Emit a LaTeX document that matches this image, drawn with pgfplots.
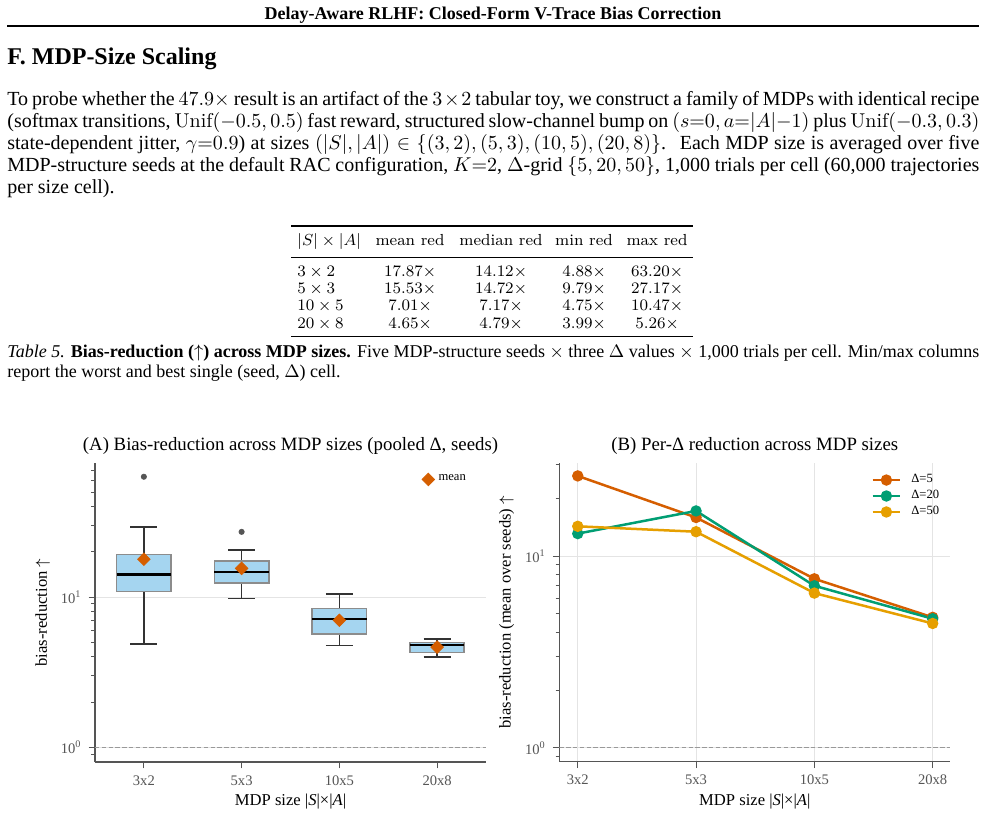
\documentclass[border=0pt]{standalone}
\usepackage{fontspec}
\usepackage{pgfplots}
\pgfplotsset{compat=1.18}
\newfontfamily\tms{Liberation Serif}

\definecolor{vermil}{HTML}{D55E00}
\definecolor{bgreen}{HTML}{009E73}
\definecolor{amber}{HTML}{E69F00}
\definecolor{boxfill}{HTML}{A5D5F0}
\definecolor{boxedge}{HTML}{8C8C8C}
\definecolor{spine}{HTML}{555555}
\definecolor{ticktext}{HTML}{555555}
\definecolor{gridc}{HTML}{E4E4E4}
\definecolor{refline}{HTML}{999999}

\newcommand\bodyfont{\tms\fontsize{10}{12}\selectfont}
\newcommand\capfont{\tms\fontsize{9}{10.5}\selectfont}
\newcommand\tabfont{\fontsize{8}{9.6}\selectfont}
\newcommand\plottitle{\tms\fontsize{9.4}{11}\selectfont}
\newcommand\plotlabel{\tms\fontsize{8.3}{10}\selectfont}
\newcommand\tickfont{\tms\fontsize{7.3}{8}\selectfont}
\newcommand\legfont{\tms\fontsize{6.3}{7}\selectfont}

% one box of a box plot: position, lower whisker, Q1, median, Q3, upper whisker
\newcommand\sizebox[6]{%
  \addplot[black!80, line width=0.7pt, forget plot] coordinates {(#1,#2) (#1,#3)};
  \addplot[black!80, line width=0.7pt, forget plot] coordinates {(#1,#5) (#1,#6)};
  \addplot[black!80, line width=0.7pt, forget plot] coordinates {(#1-0.139,#2) (#1+0.139,#2)};
  \addplot[black!80, line width=0.7pt, forget plot] coordinates {(#1-0.139,#6) (#1+0.139,#6)};
  \addplot[draw=boxedge, fill=boxfill, line width=0.8pt, forget plot]
    coordinates {(#1-0.278,#3) (#1+0.278,#3) (#1+0.278,#5) (#1-0.278,#5)} -- cycle;
  \addplot[black, line width=1.1pt, forget plot] coordinates {(#1-0.278,#4) (#1+0.278,#4)};
}

\begin{document}
\begin{tikzpicture}
\begin{scope}[x=0.5pt, y=-0.5pt]
  \useasboundingbox (0,0) rectangle (986,831);
  \fill[white] (0,0) rectangle (986,831);

  % running header
  \node[anchor=base, inner sep=0] at (493,19)
    {\tms\bfseries\fontsize{9}{11}\selectfont Delay-Aware RLHF: Closed-Form V-Trace Bias Correction};
  \draw[line width=1pt] (7,25.5) -- (979,25.5);

  % section heading
  \node[anchor=base west, inner sep=0] at (7,64)
    {\tms\bfseries\fontsize{12}{14}\selectfont F.\ MDP-Size Scaling};

  % body paragraph
  \node[anchor=base west, inner sep=0] at (7,105.7) {\bodyfont\makebox[486pt][s]{To probe whether the $47.9\times$ result is an artifact of the $3\times2$ tabular toy, we construct a family of MDPs with identical recipe}};
  \node[anchor=base west, inner sep=0] at (7,127.7) {\bodyfont\makebox[486pt][s]{(softmax transitions, $\mathrm{Unif}(-0.5,0.5)$ fast reward, structured slow-channel bump on $(s{=}0,a{=}|A|{-}1)$ plus $\mathrm{Unif}(-0.3,0.3)$}};
  \node[anchor=base west, inner sep=0] at (7,149.7) {\bodyfont\makebox[486pt][s]{state-dependent jitter, $\gamma{=}0.9$) at sizes $(|S|,|A|)\in\{(3,2),(5,3),(10,5),(20,8)\}$. \ Each MDP size is averaged over five}};
  \node[anchor=base west, inner sep=0] at (7,171.7) {\bodyfont\makebox[486pt][s]{MDP-structure seeds at the default RAC configuration, $K{=}2$, $\Delta$-grid $\{5,20,50\}$, 1,000 trials per cell (60,000 trajectories}};
  \node[anchor=base west, inner sep=0] at (7,193.7) {\bodyfont per size cell).};

  % table
  \draw[line width=0.8pt] (291,226) -- (693,226);
  \draw[line width=0.5pt] (291,257.3) -- (693,257.3);
  \draw[line width=0.8pt] (291,336.5) -- (693,336.5);
  \begin{scope}[every node/.style={inner sep=0, font=\tabfont}]
    \node[anchor=base west] at (297,245) {$|S|\times|A|$};
    \node[anchor=base] at (410,245) {mean red};
    \node[anchor=base] at (501,245) {median red};
    \node[anchor=base] at (584,245) {min red};
    \node[anchor=base] at (657,245) {max red};
    \foreach \yy/\sz/\mn/\md/\mi/\mx in {
        276.5/3\times2/17.87/14.12/4.88/63.20,
        293.6/5\times3/15.53/14.72/9.79/27.17,
        310.8/10\times5/7.01/7.17/4.75/10.47,
        328.0/20\times8/4.65/4.79/3.99/5.26}{
      \node[anchor=base west] at (297,\yy) {$\sz$};
      \node[anchor=base] at (410,\yy) {$\mn\times$};
      \node[anchor=base] at (501,\yy) {$\md\times$};
      \node[anchor=base] at (584,\yy) {$\mi\times$};
      \node[anchor=base] at (657,\yy) {$\mx\times$};
    }
  \end{scope}

  % table caption
  \node[anchor=base west, inner sep=0] at (7,357.5) {\capfont\makebox[486pt][s]{\textit{Table 5.} \textbf{Bias-reduction ($\uparrow$) across MDP sizes.} Five MDP-structure seeds $\times$ three $\Delta$ values $\times$ 1,000 trials per cell. Min/max columns}};
  \node[anchor=base west, inner sep=0] at (7,377.5) {\capfont report the worst and best single (seed, $\Delta$) cell.};

  % panel titles and axis labels
  \node[anchor=base, inner sep=0] at (290.5,450.5) {\plottitle (A) Bias-reduction across MDP sizes (pooled Δ, seeds)};
  \node[anchor=base, inner sep=0] at (754.8,450.5) {\plottitle (B) Per-Δ reduction across MDP sizes};
  \node[anchor=base, inner sep=0] at (290.5,805.5) {\plotlabel MDP size |\textit{S}|×|\textit{A}|};
  \node[anchor=base, inner sep=0] at (754.8,805.5) {\plotlabel MDP size |\textit{S}|×|\textit{A}|};
  \node[rotate=90, inner sep=0] at (42.7,612.5) {\plotlabel bias-reduction $\uparrow$};
  \node[rotate=90, inner sep=0] at (506.7,612.3) {\plotlabel bias-reduction (mean over seeds) $\uparrow$};
\end{scope}

% (A) pooled box plots per MDP size
\begin{axis}[
  at={(47.5pt,-381pt)}, anchor=south west,
  scale only axis, width=195.5pt, height=149.5pt,
  ymode=log,
  xmin=-0.5, xmax=3.5, ymin=0.80, ymax=78,
  axis x line*=bottom, axis y line*=left,
  axis line style={spine, line width=0.6pt},
  xtick={0,1,2,3}, xticklabels={3x2,5x3,10x5,20x8},
  ytick={1,10}, yticklabels={10\textsuperscript{0},10\textsuperscript{1}},
  minor ytick={0.9,2,3,4,5,6,7,8,9,20,30,40,50,60,70},
  tick align=outside,
  major tick length=3.2pt, minor tick length=1.8pt,
  tick style={spine, line width=0.5pt},
  tick label style={font=\tickfont, text=ticktext},
  ymajorgrids,
  major grid style={gridc, line width=0.4pt},
  legend cell align=left,
  legend style={draw=none, fill=none, font=\legfont,
    at={(0.975,0.988)}, anchor=north east},
]
  \addplot[refline, line width=0.6pt, dash pattern=on 2.2pt off 1.2pt, forget plot]
    coordinates {(-0.5,1) (3.5,1)};
  \sizebox{0}{4.88}{10.9}{14.12}{19.2}{29.2}
  \sizebox{1}{9.79}{12.4}{14.72}{17.4}{20.6}
  \sizebox{2}{4.75}{5.7}{7.17}{8.4}{10.47}
  \sizebox{3}{3.99}{4.28}{4.79}{4.99}{5.26}
  % outliers beyond the whiskers
  \addplot[only marks, mark=*, mark size=1.3pt, mark options={draw=spine, fill=spine}, forget plot]
    coordinates {(0,63.2) (1,27.17)};
  \addplot[only marks, mark=square*, mark size=2.2pt,
      mark options={rotate=45, draw=vermil, fill=vermil}]
    coordinates {(0,17.87) (1,15.53) (2,7.01) (3,4.65)};
  \addlegendentry{mean}
\end{axis}

% (B) per-Delta means across MDP sizes
\begin{axis}[
  at={(279.65pt,-380.85pt)}, anchor=south west,
  scale only axis, width=195.5pt, height=149.35pt,
  ymode=log,
  xmin=-0.156, xmax=3.149, ymin=0.845, ymax=30.6,
  axis x line*=bottom, axis y line*=left,
  axis line style={spine, line width=0.6pt},
  xtick={0,1,2,3}, xticklabels={3x2,5x3,10x5,20x8},
  ytick={1,10}, yticklabels={10\textsuperscript{0},10\textsuperscript{1}},
  minor ytick={0.9,2,3,4,5,6,7,8,9,20,30},
  tick align=outside,
  major tick length=3.2pt, minor tick length=1.8pt,
  tick style={spine, line width=0.5pt},
  tick label style={font=\tickfont, text=ticktext},
  xmajorgrids, ymajorgrids,
  major grid style={gridc, line width=0.4pt},
  legend cell align=left,
  legend style={draw=none, fill=none, font=\legfont,
    at={(0.998,0.99)}, anchor=north east, row sep=-1.7pt,
    /tikz/every odd column/.append style={column sep=3pt}},
  legend image code/.code={
    \draw[mark repeat=2, mark phase=2]
      plot coordinates {(0cm,0cm) (0.24cm,0cm) (0.48cm,0cm)};},
]
  \addplot[refline, line width=0.6pt, dash pattern=on 2.2pt off 1.2pt, forget plot]
    coordinates {(-0.156,1) (3.149,1)};
  \addplot[vermil, line width=1.25pt, mark=*, mark size=2.2pt, mark options={fill=vermil}]
    coordinates {(0,26.2) (1,15.9) (2,7.61) (3,4.79)};
  \addlegendentry{Δ=5}
  \addplot[bgreen, line width=1.25pt, mark=*, mark size=2.2pt, mark options={fill=bgreen}]
    coordinates {(0,13.1) (1,17.2) (2,7.0) (3,4.71)};
  \addlegendentry{Δ=20}
  \addplot[amber, line width=1.25pt, mark=*, mark size=2.2pt, mark options={fill=amber}]
    coordinates {(0,14.3) (1,13.4) (2,6.41) (3,4.45)};
  \addlegendentry{Δ=50}
\end{axis}
\end{tikzpicture}
\end{document}
